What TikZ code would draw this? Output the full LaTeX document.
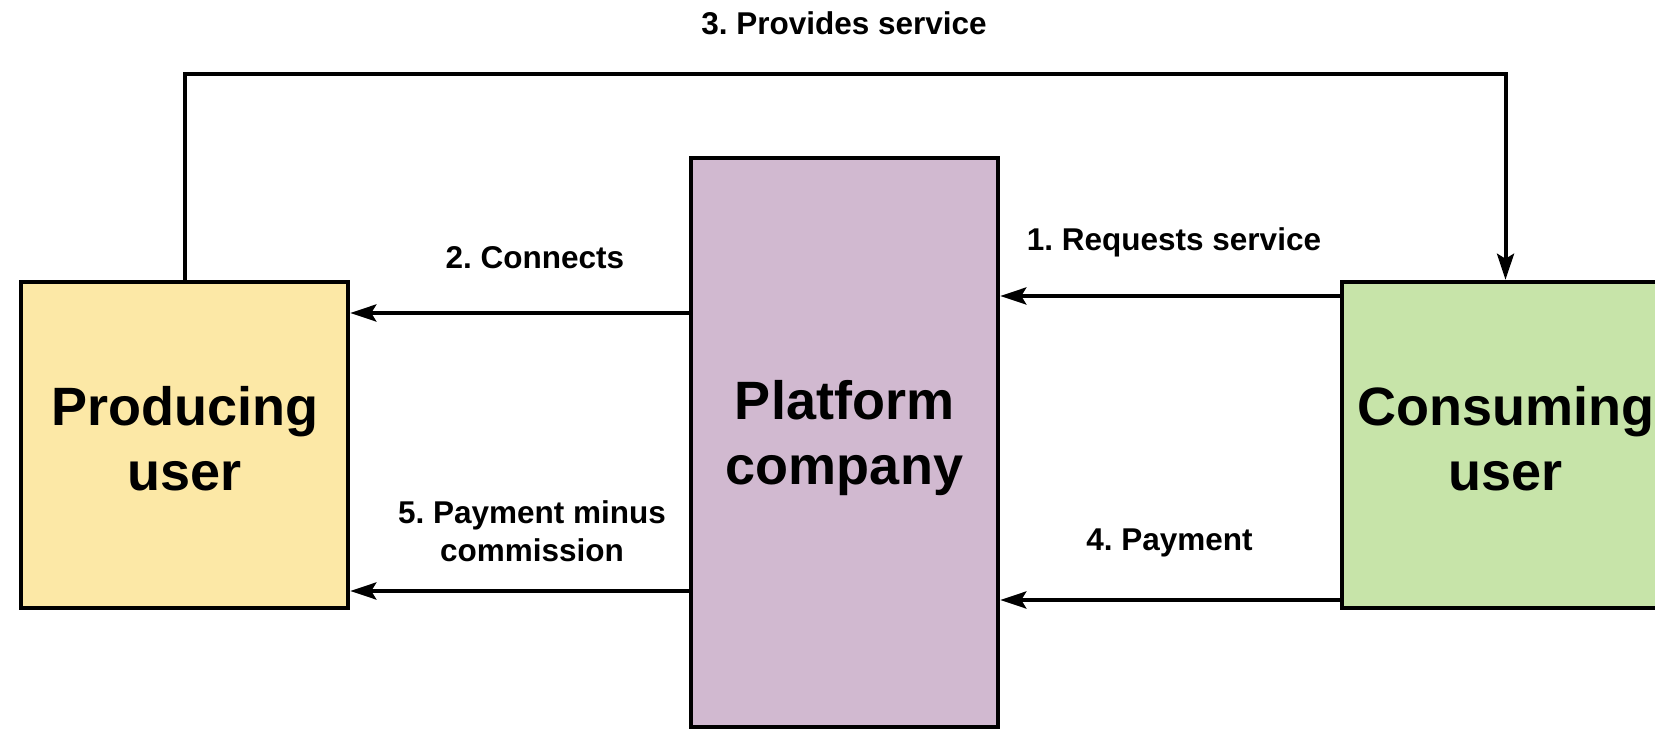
\documentclass[tikz,border=0pt]{standalone}
\usepackage{fontspec}
\setmainfont{Liberation Sans}
\frenchspacing
\usetikzlibrary{arrows.meta}
\definecolor{prodfill}{HTML}{FCE8A6}
\definecolor{platfill}{HTML}{D1B9D0}
\definecolor{consfill}{HTML}{C7E4A9}
\tikzset{
  bigbox/.style={draw=black, line width=4.5pt, inner sep=0pt},
  bigtext/.style={inner sep=0pt, align=center, font=\fontsize{54}{65}\selectfont\bfseries},
  flowarrow/.style={line width=4pt, -{Stealth[length=26pt,width=17pt,inset=5pt]}},
  flowlabel/.style={inner sep=0pt, align=center, font=\fontsize{31.5}{38}\selectfont\bfseries}
}
\begin{document}
\begin{tikzpicture}[x=1pt,y=1pt]
  \useasboundingbox (0,0) rectangle (1655,731);
  \fill[white] (0,0) rectangle (1655,731);
  \node[bigbox, fill=prodfill, minimum width=327pt, minimum height=326pt] (prod) at (184.5,286) {};
  \node[bigbox, fill=platfill, minimum width=307pt, minimum height=569pt] (plat) at (844.5,288.5) {};
  \node[bigbox, fill=consfill, minimum width=327pt, minimum height=326pt] (cons) at (1505.5,286) {};
  \node[bigtext] (prodtext) at ([yshift=6pt]prod.center) {Producing\\user};
  \node[bigtext] (plattext) at ([yshift=4pt]plat.center) {Platform\\company};
  \node[bigtext] (constext) at ([yshift=6pt]cons.center) {Consuming\\user};

  \coordinate (topl) at (prod.north |- 0,657);
  \coordinate (topr) at (cons.north |- 0,657);
  \draw[flowarrow] (prod.north) -- (topl) -- (topr) -- (cons.north);
  \draw[flowarrow] (plat.west |- 0,418) -- (prod.east |- 0,418);
  \draw[flowarrow] (plat.west |- 0,140) -- (prod.east |- 0,140);
  \draw[flowarrow] (cons.west |- 0,435) -- (plat.east |- 0,435);
  \draw[flowarrow] (cons.west |- 0,131) -- (plat.east |- 0,131);

  \node[flowlabel] (l3) at (844,708) {3. Provides service};
  \node[flowlabel] (l2) at (535,473) {2. Connects};
  \node[flowlabel] (l1) at (1174,489) {1. Requests service};
  \node[flowlabel] (l5) at (532,199.5) {5. Payment minus\\commission};
  \node[flowlabel] (l4) at (1169.5,188) {4. Payment};
\end{tikzpicture}
\end{document}
